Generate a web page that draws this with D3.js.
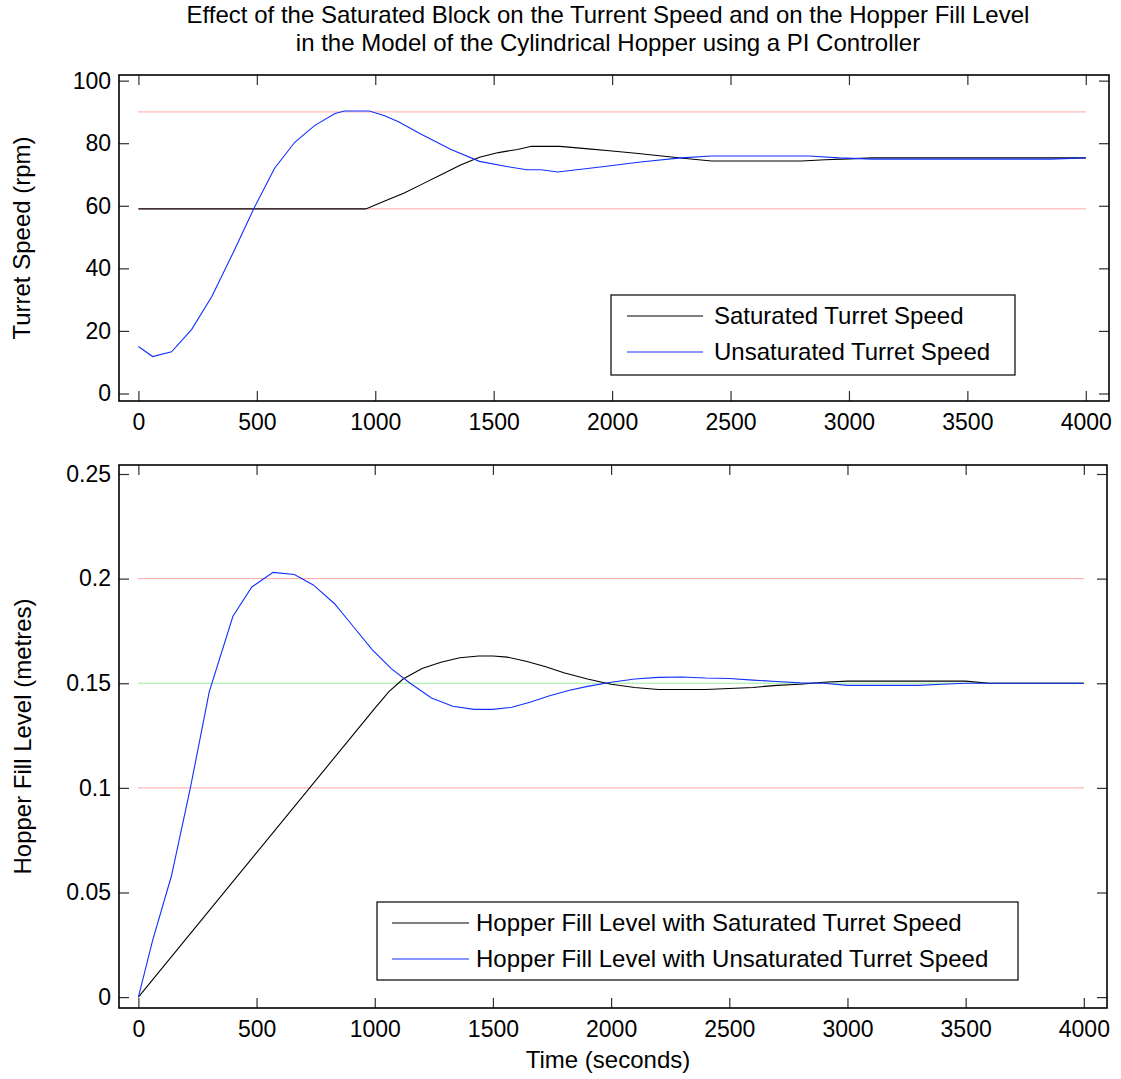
<!DOCTYPE html>
<html>
<head>
<meta charset="utf-8">
<script src="https://cdn.jsdelivr.net/npm/d3@7"></script>
<style>
  html, body { margin: 0; padding: 0; background: #fff; }
  svg { display: block; }
  text { font-family: "Liberation Sans", Arial, Helvetica, sans-serif; fill: #000; }
</style>
</head>
<body>
<svg id="chart" width="1121" height="1079"></svg>
<script>
// ---- data ----
const titleLines = [
  "Effect of the Saturated Block on the Turrent Speed and on the Hopper Fill Level",
  "in the Model of the Cylindrical Hopper using a PI Controller"
];
const timeTicks = [0, 500, 1000, 1500, 2000, 2500, 3000, 3500, 4000];
const speedTicks = [0, 20, 40, 60, 80, 100];
const levelTicks = [0, 0.05, 0.1, 0.15, 0.2, 0.25];
const levelTickLabels = ["0", "0.05", "0.1", "0.15", "0.2", "0.25"];

// turret speed limits (rpm) and fill-level limits / set point (m)
const speedLimits = [59, 90];
const levelLimits = [0.1, 0.2];
const levelSetpoint = [0.15];
const limitSpan = [0, 4000];

// saturated turret speed (rpm)
const satSpeedTime  = [0, 960, 1040, 1120, 1200, 1280, 1360, 1440, 1520, 1600, 1660, 1780, 1900, 2000, 2100, 2200, 2300, 2420, 2800, 2900, 3000, 3100, 4000];
const satSpeedValue = [59, 59, 61.5, 64, 67, 70, 73, 75.5, 77, 78, 79, 79, 78.2, 77.5, 76.8, 76, 75.2, 74.3, 74.3, 74.7, 75, 75.3, 75.3];

// unsaturated turret speed (rpm)
const unsatSpeedTime  = [0, 60, 140, 225, 310, 400, 490, 575, 660, 745, 830, 870, 975, 1040, 1100, 1190, 1320, 1440, 1560, 1640, 1700, 1770, 1950, 2120, 2290, 2420, 2830, 2960, 3100, 3850, 4000];
const unsatSpeedValue = [15, 11.8, 13.3, 20.5, 31, 45, 59.5, 72, 80.3, 85.7, 89.5, 90.3, 90.3, 88.8, 86.8, 83, 78, 74.2, 72.5, 71.5, 71.5, 70.8, 72.4, 74, 75.3, 75.9, 75.9, 75.3, 74.9, 74.9, 75.3];

// hopper fill level with saturated turret speed (m)
const satLevelTime  = [0, 1000, 1060, 1120, 1200, 1280, 1360, 1440, 1500, 1560, 1640, 1720, 1800, 1900, 2000, 2100, 2200, 2300, 2400, 2500, 2600, 2700, 2800, 2900, 3000, 3500, 3600, 4000];
const satLevelValue = [0, 0.138, 0.146, 0.152, 0.157, 0.160, 0.1622, 0.163, 0.163, 0.1625, 0.1605, 0.158, 0.155, 0.152, 0.1495, 0.148, 0.147, 0.147, 0.147, 0.1475, 0.148, 0.149, 0.1495, 0.1505, 0.151, 0.151, 0.150, 0.150];

// hopper fill level with unsaturated turret speed (m)
const unsatLevelTime  = [0, 60, 140, 220, 300, 400, 480, 570, 660, 740, 830, 910, 990, 1070, 1150, 1240, 1330, 1420, 1500, 1580, 1660, 1740, 1820, 1900, 2000, 2100, 2200, 2300, 2400, 2500, 2600, 2700, 2800, 2900, 3000, 3100, 3200, 3300, 3400, 3500, 3600, 4000];
const unsatLevelValue = [0, 0.027, 0.058, 0.100, 0.146, 0.182, 0.196, 0.203, 0.202, 0.197, 0.188, 0.177, 0.166, 0.157, 0.150, 0.143, 0.139, 0.1375, 0.1375, 0.1385, 0.141, 0.144, 0.1465, 0.1485, 0.1505, 0.152, 0.1528, 0.153, 0.1525, 0.1523, 0.1515, 0.1508, 0.1502, 0.150, 0.149, 0.149, 0.149, 0.149, 0.1495, 0.150, 0.150, 0.150];

// ---- drawing ----
const svg = d3.select("#chart");
const TICK_FONT = 23;
const LABEL_FONT = 24;
const COL = { black: "#000000", blue: "#1030ff", red: "#ff2020", green: "#00d000", tick: "#303030" };

svg.selectAll("text.title")
  .data(titleLines)
  .join("text")
  .attr("class", "title")
  .attr("x", 608)
  .attr("y", 23)
  .attr("dy", (d, i) => i * 28)
  .attr("text-anchor", "middle")
  .style("font-size", "24px")
  .text(d => d);

const zip = (ts, vs) => ts.map((t, i) => [t, vs[i]]);

function panel(cfg) {
  const x = d3.scaleLinear().domain([-82, 4098]).range([cfg.left, cfg.right]);
  const y = d3.scaleLinear().domain(cfg.yDomain).range([cfg.bottom, cfg.top]);
  const g = svg.append("g");

  const line = d3.line().x(d => x(d[0])).y(d => y(d[1]));

  // dotted limit / set-point lines
  cfg.refs.forEach(r => {
    r.values.forEach(v => {
      g.append("path")
        .attr("d", line(limitSpan.map(t => [t, v])))
        .attr("fill", "none")
        .attr("stroke", r.color)
        .attr("stroke-width", 1)
        .attr("stroke-dasharray", "1,1")
        .attr("opacity", 0.8);
    });
  });

  // series
  cfg.series.forEach(s => {
    g.append("path")
      .attr("d", line(s.data))
      .attr("fill", "none")
      .attr("stroke", s.color)
      .attr("stroke-width", 1.1);
  });

  // axes, ticks drawn inward
  const tickLen = 10;
  const xb = d3.axisBottom(x).tickValues(timeTicks).tickSizeInner(-tickLen).tickSizeOuter(0).tickPadding(13).tickFormat(d3.format("d"));
  const xt = d3.axisTop(x).tickValues(timeTicks).tickSizeInner(-tickLen).tickSizeOuter(0).tickFormat("");
  const yl = d3.axisLeft(y).tickValues(cfg.yTicks).tickSizeInner(-tickLen).tickSizeOuter(0).tickPadding(8)
    .tickFormat((d, i) => cfg.yLabels[i]);
  const yr = d3.axisRight(y).tickValues(cfg.yTicks).tickSizeInner(-tickLen).tickSizeOuter(0).tickFormat("");

  const axes = [
    g.append("g").attr("transform", `translate(0,${cfg.bottom})`).call(xb),
    g.append("g").attr("transform", `translate(0,${cfg.top})`).call(xt),
    g.append("g").attr("transform", `translate(${cfg.left},0)`).call(yl),
    g.append("g").attr("transform", `translate(${cfg.right},0)`).call(yr)
  ];
  axes.forEach(a => {
    a.select(".domain").remove();
    a.selectAll(".tick line").attr("stroke", COL.tick).attr("stroke-width", 1.2);
    a.selectAll(".tick text").style("font-size", TICK_FONT + "px").attr("fill", "#000").style("font-family", "'Liberation Sans', Arial, sans-serif");
  });

  // box
  g.append("rect")
    .attr("x", cfg.left).attr("y", cfg.top)
    .attr("width", cfg.right - cfg.left).attr("height", cfg.bottom - cfg.top)
    .attr("fill", "none").attr("stroke", "#000").attr("stroke-width", 1.6);

  // y label
  g.append("text")
    .attr("transform", `translate(${cfg.yLabelX},${(cfg.top + cfg.bottom) / 2}) rotate(-90)`)
    .attr("text-anchor", "middle")
    .attr("dy", "0.35em")
    .style("font-size", LABEL_FONT + "px")
    .text(cfg.yLabel);

  // legend
  const L = cfg.legend;
  g.append("rect")
    .attr("x", L.x).attr("y", L.y).attr("width", L.w).attr("height", L.h)
    .attr("fill", "#fff").attr("stroke", "#000").attr("stroke-width", 1.2);
  cfg.series.forEach((s, i) => {
    const ry = L.y + L.firstRow + i * L.rowGap;
    g.append("line")
      .attr("x1", L.x + L.lineStart).attr("x2", L.x + L.lineEnd)
      .attr("y1", ry).attr("y2", ry)
      .attr("stroke", s.color).attr("stroke-width", 1.1);
    g.append("text")
      .attr("x", L.x + L.textStart).attr("y", ry)
      .attr("dy", "0.35em")
      .style("font-size", LABEL_FONT + "px")
      .text(s.name);
  });
  return { x, y, g };
}

panel({
  left: 119, right: 1109, top: 75, bottom: 401,
  yDomain: [-2.4, 101.8],
  yTicks: speedTicks,
  yLabels: speedTicks.map(String),
  yLabel: "Turret Speed (rpm)",
  yLabelX: 22,
  refs: [{ values: speedLimits, color: COL.red }],
  series: [
    { name: "Saturated Turret Speed", color: COL.black, data: zip(satSpeedTime, satSpeedValue) },
    { name: "Unsaturated Turret Speed", color: COL.blue, data: zip(unsatSpeedTime, unsatSpeedValue) }
  ],
  legend: { x: 611, y: 295, w: 404, h: 80, firstRow: 21, rowGap: 36, lineStart: 16, lineEnd: 92, textStart: 103 }
});

panel({
  left: 119, right: 1107, top: 465, bottom: 1008,
  yDomain: [-0.0052, 0.2543],
  yTicks: levelTicks,
  yLabels: levelTickLabels,
  yLabel: "Hopper Fill Level (metres)",
  yLabelX: 23,
  refs: [{ values: levelLimits, color: COL.red }, { values: levelSetpoint, color: COL.green }],
  series: [
    { name: "Hopper Fill Level with Saturated Turret Speed", color: COL.black, data: zip(satLevelTime, satLevelValue) },
    { name: "Hopper Fill Level with Unsaturated Turret Speed", color: COL.blue, data: zip(unsatLevelTime, unsatLevelValue) }
  ],
  legend: { x: 377, y: 902, w: 641, h: 78, firstRow: 21, rowGap: 36, lineStart: 15, lineEnd: 92, textStart: 99 }
});

svg.append("text")
  .attr("x", 608)
  .attr("y", 1068)
  .attr("text-anchor", "middle")
  .style("font-size", LABEL_FONT + "px")
  .text("Time (seconds)");
</script>
</body>
</html>
